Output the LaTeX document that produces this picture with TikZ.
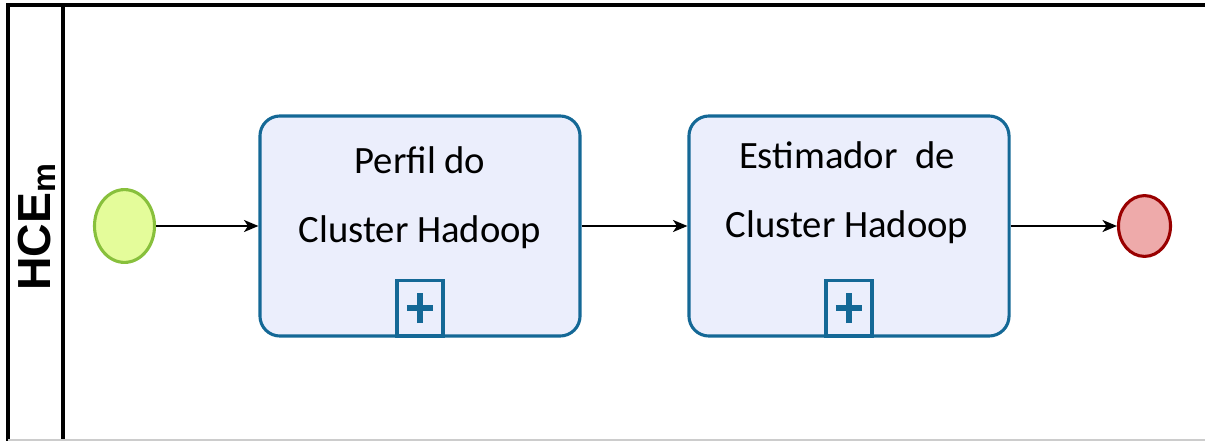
\documentclass[tikz,border=0pt]{standalone}
\usepackage{fontspec}
\setmainfont{Carlito}
\newfontfamily\poolfont{Liberation Sans}
\usetikzlibrary{arrows.meta,shapes.geometric}

\definecolor{taskfill}{RGB}{235,238,252}
\definecolor{taskline}{RGB}{20,104,150}
\definecolor{startfill}{RGB}{228,252,154}
\definecolor{startline}{RGB}{136,192,60}
\definecolor{endfill}{RGB}{238,170,170}
\definecolor{endline}{RGB}{153,0,0}

\def\lanemid{226}

\begin{document}
\begin{tikzpicture}[x=0.025cm,y=-0.025cm,>={Stealth[length=0.36cm,width=0.3cm,inset=0.1cm]}]
    \tikzstyle{event}=[ellipse,line width=2.2pt,inner sep=0pt]
    \tikzstyle{start event}=[event, fill=startfill, draw=startline, minimum width=1.5cm, minimum height=1.82cm];
    \tikzstyle{end event}=[event, fill=endfill, draw=endline, minimum width=1.3cm, minimum height=1.52cm];
    \tikzstyle{task}=[rectangle, rounded corners=0.5cm, fill=taskfill, draw=taskline, line width=2.2pt, minimum width=8cm, minimum height=5.5cm];
    \tikzstyle{marker}=[rectangle, draw=taskline, fill=taskfill, line width=2.5pt, minimum width=1.15cm, minimum height=1.38cm, inner sep=0pt,
        path picture={\draw[taskline, line width=4.5pt]
            ([xshift=-0.33cm]path picture bounding box.center) -- ([xshift=0.33cm]path picture bounding box.center)
            ([yshift=-0.37cm]path picture bounding box.center) -- ([yshift=0.37cm]path picture bounding box.center);}];
    \tikzstyle{tasktext}=[align=center, font=\fontsize{27.5}{49}\selectfont];
    \tikzstyle{flow}=[->, line width=1.5pt];
    \tikzstyle{pool line}=[line width=2.2pt, black];

    \useasboundingbox (0,0) rectangle (1205,441);

    % Draw the pool and its lane header
    \draw[pool line] (1205,5) -- (8,5) -- (8,441);
    \draw[pool line] (63,5) -- (63,441);
    \draw[black!20, line width=1pt] (8,440) -- (1205,440);
    \node[rotate=90, font=\poolfont\bfseries\fontsize{33}{33}\selectfont] (pool) at (37,227) {HCE\textsubscript{m}};

    % Draw the events
    \node[start event] (S) at (124.5,\lanemid) {};
    \node[end event] (E) at (1144.5,\lanemid) {};

    % Draw the two sub-process tasks with their markers
    \foreach \name / \x in {1/420, 2/849}
        \node[task] (T-\name) at (\x,\lanemid) {};
    \foreach \name in {1,2}
        \node[marker, anchor=south] (M-\name) at (T-\name.south) {};

    \node[tasktext] (T-1-text) at (420,198) {Perfil do\\Cluster Hadoop};
    \node[tasktext] (T-2-text) at (847,193) {Estimador~ de\\Cluster Hadoop};

    % Connect the flow
    \draw[flow] (S) -- (T-1);
    \draw[flow] (T-1) -- (T-2);
    \draw[flow] (T-2) -- (E);
\end{tikzpicture}
\end{document}
